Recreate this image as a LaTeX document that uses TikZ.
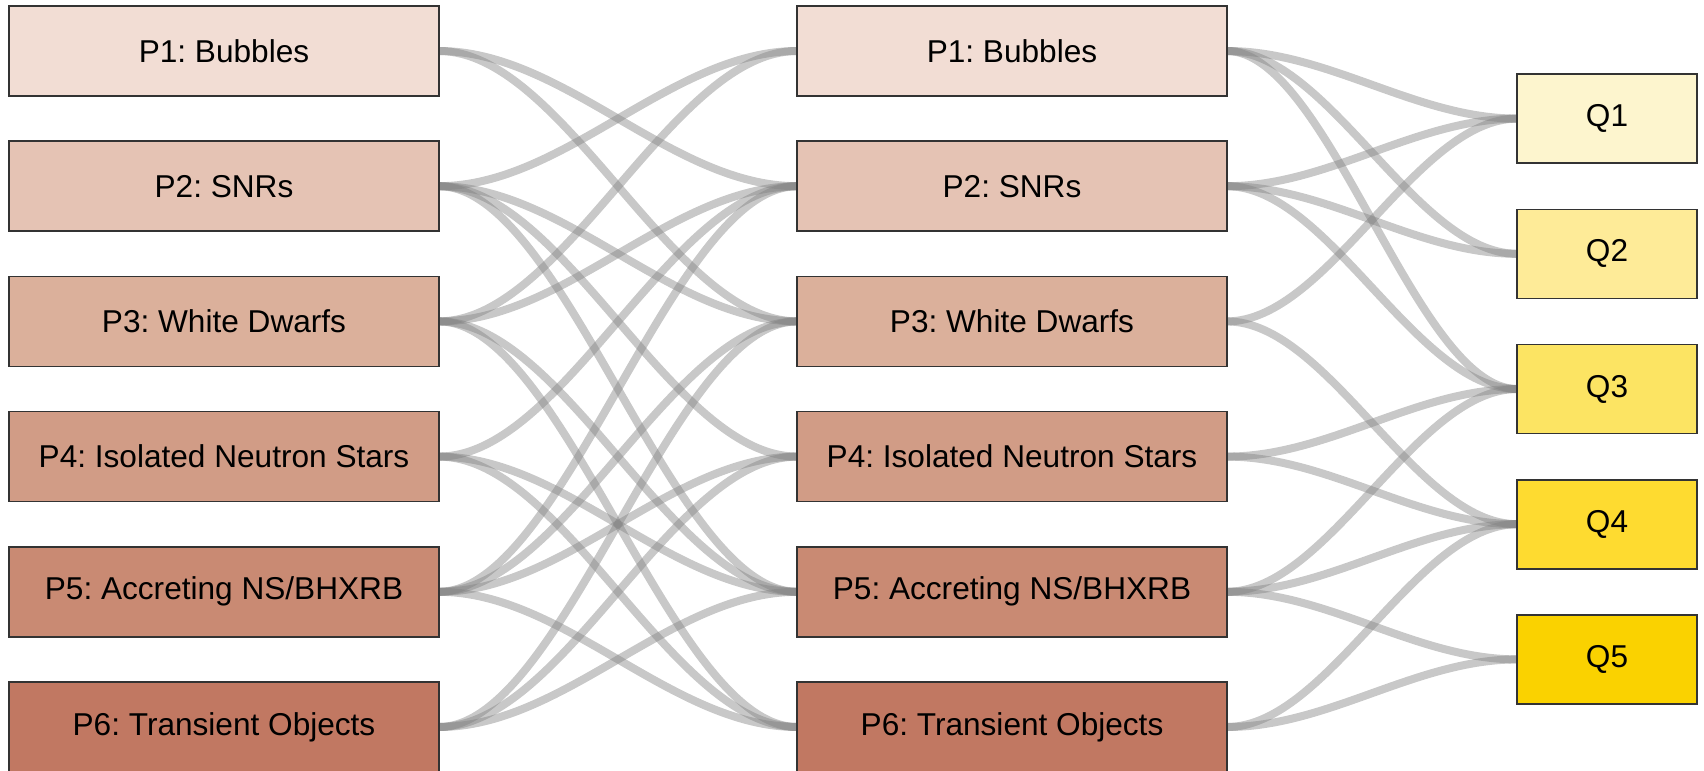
\documentclass[tikz,border=0pt]{standalone}
\usepackage{fontspec}
\setmainfont{Liberation Sans}
\usetikzlibrary{backgrounds}
\definecolor{boxline}{HTML}{333333}
\definecolor{linkgray}{HTML}{808080}
\definecolor{cp1}{HTML}{F2DDD4}
\definecolor{cp2}{HTML}{E5C3B4}
\definecolor{cp3}{HTML}{DBB09B}
\definecolor{cp4}{HTML}{D19C86}
\definecolor{cp5}{HTML}{C98A73}
\definecolor{cp6}{HTML}{C17862}
\definecolor{cq1}{HTML}{FDF5CE}
\definecolor{cq2}{HTML}{FEEB98}
\definecolor{cq3}{HTML}{FCE463}
\definecolor{cq4}{HTML}{FEDB30}
\definecolor{cq5}{HTML}{FAD200}
\begin{document}
\begin{tikzpicture}[x=0.5pt,y=-0.5pt,
  pbox/.style={draw=boxline, line width=0.8pt, minimum width=215pt, minimum height=45pt,
    inner sep=0pt, outer sep=0pt, font=\fontsize{15.8}{18}\selectfont},
  qbox/.style={pbox, minimum width=90pt, minimum height=44.5pt},
  link/.style={draw=linkgray, line width=4pt, draw opacity=0.43}]
\useasboundingbox (0,0) rectangle (1704,771);
% left column
\node[pbox, fill=cp1] (L1) at (224,51) {P1:\ Bubbles};
\node[pbox, fill=cp2] (L2) at (224,186.2) {P2:\ SNRs};
\node[pbox, fill=cp3] (L3) at (224,321.4) {P3:\ White Dwarfs};
\node[pbox, fill=cp4] (L4) at (224,456.6) {P4:\ Isolated Neutron Stars};
\node[pbox, fill=cp5] (L5) at (224,591.8) {P5:\ Accreting NS/BHXRB};
\node[pbox, fill=cp6] (L6) at (224,727) {P6:\ Transient Objects};
% middle column
\node[pbox, fill=cp1] (M1) at (1012,51) {P1:\ Bubbles};
\node[pbox, fill=cp2] (M2) at (1012,186.2) {P2:\ SNRs};
\node[pbox, fill=cp3] (M3) at (1012,321.4) {P3:\ White Dwarfs};
\node[pbox, fill=cp4] (M4) at (1012,456.6) {P4:\ Isolated Neutron Stars};
\node[pbox, fill=cp5] (M5) at (1012,591.8) {P5:\ Accreting NS/BHXRB};
\node[pbox, fill=cp6] (M6) at (1012,727) {P6:\ Transient Objects};
% right column
\node[qbox, fill=cq1] (Q1) at (1607,118.6) {Q1};
\node[qbox, fill=cq2] (Q2) at (1607,253.8) {Q2};
\node[qbox, fill=cq3] (Q3) at (1607,389) {Q3};
\node[qbox, fill=cq4] (Q4) at (1607,524.2) {Q4};
\node[qbox, fill=cq5] (Q5) at (1607,659.4) {Q5};
\begin{scope}[on background layer]
\foreach \a/\b in {1/2,2/1,1/3,3/1,2/3,3/2,2/4,4/2,2/5,5/2,3/5,5/3,3/6,6/3,4/5,5/4,4/6,6/4,5/6,6/5}
  \draw[link] (L\a.east) .. controls +(125,0) and +(-125,0) .. (M\b.west);
\foreach \a/\b in {1/1,1/2,1/3,2/1,2/2,2/3,3/1,3/4,4/3,4/4,5/3,5/4,5/5,6/4,6/5}
  \draw[link] (M\a.east) .. controls +(101,0) and +(-101,0) .. (Q\b.west);
\end{scope}
\end{tikzpicture}
\end{document}
